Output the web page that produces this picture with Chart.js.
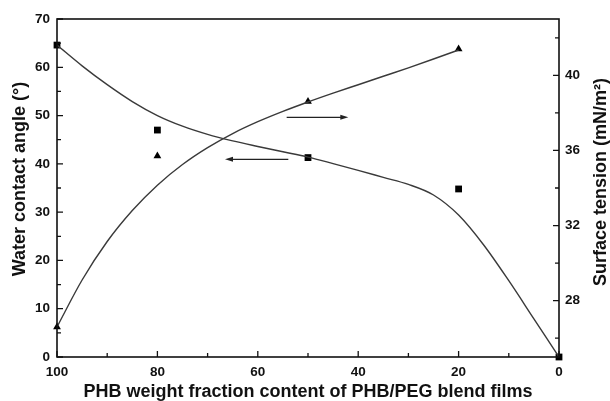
<!DOCTYPE html>
<html>

<head>
    <meta charset="utf-8">
    <title>PHB/PEG blend films</title>
    <script src="https://cdn.jsdelivr.net/npm/chart.js"></script>
    <style>
        html, body {
            margin: 0;
            padding: 0;
            background: #fff;
        }

        canvas {
            display: block;
        }
    </style>
</head>

<body>
    <canvas id="graph" width="610" height="401"></canvas>
    <script>
        // measured points
        const angleX = [100, 80, 50, 20, 0];
        const angleY = [64.6, 47.0, 41.3, 34.8, 0];
        const tensionX = [100, 80, 50, 20];
        const tensionY = [26.6, 35.7, 38.6, 41.4];

        // fitted curves
        const angleFitX = [100, 95, 90, 85, 80, 75, 70, 65, 60, 55, 50, 45, 40, 35, 30, 25, 20, 15, 10, 5, 0];
        const angleFitY = [64.6, 60.3, 56.4, 52.9, 50.0, 47.8, 46.1, 44.75, 43.6, 42.5, 41.4, 40.05, 38.65, 37.2, 35.75, 33.55, 29.4, 23.2, 15.8, 7.9, 0];
        const tensionFitX = [100, 95, 90, 85, 80, 75, 70, 65, 60, 55, 50, 45, 40, 35, 30, 25, 20];
        const tensionFitY = [26.6, 29.1, 31.15, 32.8, 34.15, 35.25, 36.15, 36.9, 37.53, 38.08, 38.58, 39.05, 39.5, 39.95, 40.4, 40.87, 41.35];

        // tick labels
        const xTicks = [100, 80, 60, 40, 20, 0];
        const xMinor = [90, 70, 50, 30, 10];
        const angleTicks = [0, 10, 20, 30, 40, 50, 60, 70];
        const angleMinor = [5, 15, 25, 35, 45, 55, 65];
        const tensionTicks = [28, 32, 36, 40];
        const tensionMinor = [26, 30, 34, 38, 42];

        // arrows pointing to the axis each curve belongs to (x from, x to, y on left axis)
        const arrowToRight = [54.25, 41.97, 49.64];
        const arrowToLeft = [53.92, 66.53, 40.94];

        const xTitle = 'PHB weight fraction content of PHB/PEG blend films';
        const leftTitle = 'Water contact angle (°)';
        const rightTitle = 'Surface tension (mN/m²)';

        const FONT = '"Liberation Sans", Arial, sans-serif';
        const INK = '#111';

        const pts = (xs, ys) => xs.map((x, i) => ({ x: x, y: ys[i] }));

        const setTicks = list => scale => {
            scale.ticks = list.map(v => ({ value: v }));
        };

        // frame, inward ticks, arrows and the two vertical titles
        const decor = {
            id: 'decor',
            afterDraw(chart) {
                const ctx = chart.ctx;
                const a = chart.chartArea;
                const sx = chart.scales.x, sy = chart.scales.y, sr = chart.scales.y2;
                ctx.save();
                ctx.strokeStyle = INK;
                ctx.lineWidth = 1.6;
                ctx.strokeRect(a.left, a.top, a.right - a.left, a.bottom - a.top);

                ctx.lineWidth = 1.3;
                ctx.beginPath();
                const tick = (x0, y0, x1, y1) => { ctx.moveTo(x0, y0); ctx.lineTo(x1, y1); };
                xTicks.forEach(v => { const p = sx.getPixelForValue(v); tick(p, a.bottom, p, a.bottom - 6); });
                xMinor.forEach(v => { const p = sx.getPixelForValue(v); tick(p, a.bottom, p, a.bottom - 4); });
                angleTicks.forEach(v => { const p = sy.getPixelForValue(v); tick(a.left, p, a.left + 6, p); });
                angleMinor.forEach(v => { const p = sy.getPixelForValue(v); tick(a.left, p, a.left + 4, p); });
                tensionTicks.forEach(v => { const p = sr.getPixelForValue(v); tick(a.right, p, a.right - 6, p); });
                tensionMinor.forEach(v => { const p = sr.getPixelForValue(v); tick(a.right, p, a.right - 4, p); });
                ctx.stroke();

                const arrow = arr => {
                    const x0 = sx.getPixelForValue(arr[0]);
                    const x1 = sx.getPixelForValue(arr[1]);
                    const y = sy.getPixelForValue(arr[2]);
                    const d = Math.sign(x1 - x0);
                    ctx.strokeStyle = '#222';
                    ctx.lineWidth = 1.3;
                    ctx.beginPath();
                    ctx.moveTo(x0, y);
                    ctx.lineTo(x1 - d * 5, y);
                    ctx.stroke();
                    ctx.fillStyle = '#222';
                    ctx.beginPath();
                    ctx.moveTo(x1, y);
                    ctx.lineTo(x1 - d * 8, y - 2.5);
                    ctx.lineTo(x1 - d * 8, y + 2.5);
                    ctx.closePath();
                    ctx.fill();
                };
                arrow(arrowToRight);
                arrow(arrowToLeft);

                const vTitle = (text, x, y) => {
                    ctx.save();
                    ctx.translate(x, y);
                    ctx.rotate(-Math.PI / 2);
                    ctx.fillText(text, 0, 0);
                    ctx.restore();
                };
                ctx.fillStyle = INK;
                ctx.font = 'bold 18px ' + FONT;
                ctx.textAlign = 'center';
                ctx.textBaseline = 'middle';
                const mid = (a.top + a.bottom) / 2;
                vTitle(leftTitle, 20, mid - 9);
                vTitle(rightTitle, 601, mid - 6);
                ctx.restore();
            }
        };

        const tickFont = { family: FONT, size: 13.5, weight: 'bold' };
        const titleFont = { family: FONT, size: 18, weight: 'bold', lineHeight: 1 };

        new Chart(document.getElementById('graph'), {
            type: 'scatter',
            data: {
                datasets: [
                    {
                        type: 'line',
                        data: pts(angleFitX, angleFitY),
                        yAxisID: 'y',
                        borderColor: '#3a3a3a',
                        borderWidth: 1.4,
                        pointRadius: 0,
                        cubicInterpolationMode: 'monotone',
                        fill: false
                    },
                    {
                        type: 'line',
                        data: pts(tensionFitX, tensionFitY),
                        yAxisID: 'y2',
                        borderColor: '#3a3a3a',
                        borderWidth: 1.4,
                        pointRadius: 0,
                        cubicInterpolationMode: 'monotone',
                        fill: false
                    },
                    {
                        label: 'Water contact angle',
                        data: pts(angleX, angleY),
                        yAxisID: 'y',
                        pointStyle: 'rect',
                        pointRadius: 4.8,
                        backgroundColor: '#000',
                        borderColor: '#000',
                        borderWidth: 0,
                        clip: false
                    },
                    {
                        label: 'Surface tension',
                        data: pts(tensionX, tensionY),
                        yAxisID: 'y2',
                        pointStyle: 'triangle',
                        pointRadius: 4.5,
                        backgroundColor: '#000',
                        borderColor: '#000',
                        borderWidth: 0,
                        clip: false
                    }
                ]
            },
            options: {
                responsive: false,
                animation: false,
                devicePixelRatio: 1,
                layout: { padding: { top: 19, left: 0, right: 0, bottom: 0 } },
                plugins: {
                    legend: { display: false },
                    tooltip: { enabled: false }
                },
                scales: {
                    x: {
                        type: 'linear',
                        reverse: true,
                        min: 0,
                        max: 100,
                        afterBuildTicks: setTicks(xTicks),
                        afterFit: s => { s.height = 44; },
                        grid: { display: false, drawTicks: false },
                        border: { display: false },
                        ticks: { font: tickFont, color: INK, padding: 7, maxRotation: 0 },
                        title: { display: true, text: xTitle, font: titleFont, color: INK, padding: { top: 0, bottom: 0 } }
                    },
                    y: {
                        position: 'left',
                        min: 0,
                        max: 70,
                        afterBuildTicks: setTicks(angleTicks),
                        afterFit: s => { s.width = 57; },
                        grid: { display: false, drawTicks: false },
                        border: { display: false },
                        ticks: { font: tickFont, color: INK, padding: 7 }
                    },
                    y2: {
                        position: 'right',
                        min: 25,
                        max: 43,
                        afterBuildTicks: setTicks(tensionTicks),
                        afterFit: s => { s.width = 51; },
                        grid: { display: false, drawTicks: false },
                        border: { display: false },
                        ticks: { font: tickFont, color: INK, padding: 6 }
                    }
                }
            },
            plugins: [decor]
        });
    </script>
</body>

</html>
